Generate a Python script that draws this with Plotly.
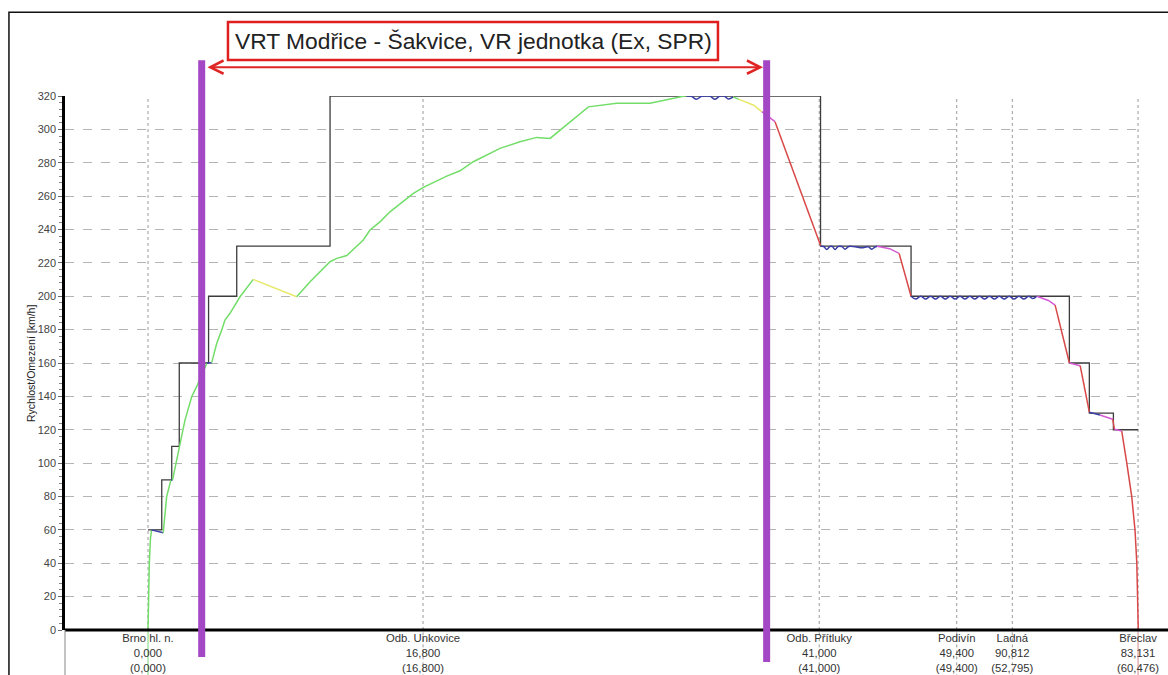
import plotly.graph_objects as go

# ---------------- data ----------------
# speed limit (step line, value holds until next km)
limit_km = [0.0, 0.84, 1.45, 1.91, 3.70, 5.42, 11.12, 41.08, 46.61, 56.28, 57.50, 58.97, 60.48]
limit_kmh = [60, 90, 110, 160, 200, 230, 320, 230, 200, 160, 130, 120, 120]

# stations (x position = value in parentheses)
station_pos = [0.0, 16.8, 41.0, 49.4, 52.795, 60.476]
station_names = ["Brno hl. n.", "Odb. Unkovice", "Odb. Přítluky", "Podivín", "Ladná", "Břeclav"]
station_km = ["0,000", "16,800", "41,000", "49,400", "90,812", "83,131"]
station_km_par = ["(0,000)", "(16,800)", "(41,000)", "(49,400)", "(52,795)", "(60,476)"]

# driving phases of the speed curve
acc1_km = [0.0, 0.03, 0.08, 0.15, 0.22]
acc1_v = [0, 20, 40, 55, 60]
hold1_km = [0.2, 0.93]
hold1_v = [60, 58.3]
acc2_km = [0.93, 1.14, 1.4]
acc2_v = [58.3, 79.9, 90]
hold2_km = [1.4, 1.5]
hold2_v = [90, 90]
acc3_km = [1.5, 1.75, 1.95, 2.26, 2.67, 2.97, 3.59]
acc3_v = [90, 101.9, 109.8, 125.8, 139.8, 145.8, 159.8]
hold3_km = [3.59, 3.89]
hold3_v = [160, 160.2]
acc4_km = [3.89, 4.2, 4.5, 4.7, 5.01, 5.62, 6.43]
acc4_v = [160.2, 171.8, 179.7, 185.7, 189.8, 199.7, 210.1]
coast1_km = [6.43, 7.56, 9.08]
coast1_v = [210.1, 205.7, 199.7]
acc5_km = [9.08, 9.9, 11.12, 11.53, 12.14, 13.15, 13.56, 14.17, 14.78, 16.21, 16.82, 18.25,
           19.06, 19.87, 21.5, 22.72, 23.74, 24.56, 26.9, 28.63, 30.67, 32.91]
acc5_v = [199.7, 208.7, 220.7, 222.7, 224.4, 233.7, 239.7, 244.6, 250.6, 261.6, 265.2, 272,
          275.2, 280.6, 288.6, 292.6, 295.2, 294.6, 313.5, 315.6, 315.6, 320.3]
hold4_km = [32.91, 33.2, 33.5, 33.8, 34.05, 34.35, 34.63, 34.9, 35.2, 35.45, 35.74]
hold4_v = [320, 319.8, 318.0, 319.8, 320, 319.8, 318.0, 319.8, 320, 318.2, 319.5]
acc6_km = [35.74, 36.1]
acc6_v = [319.5, 318]
coast2_km = [36.1, 37.0, 37.49]
coast2_v = [318, 314.5, 310.6]
brk_l1_km = [37.49, 37.99, 38.3]
brk_l1_v = [310.6, 306.6, 304.6]
brk1_km = [38.3, 41.09]
brk1_v = [304.6, 230.2]
hold5_km = [41.09, 41.28, 41.46, 41.65, 41.8, 41.97, 42.15, 42.38, 42.58, 42.8, 43.2, 43.6, 44.0, 44.21, 44.4, 44.53]
hold5_v = [230, 229.8, 228.0, 229.8, 229.8, 228.0, 229.8, 229.8, 228.2, 229.8, 229.6, 229.0, 229.6, 228.2, 229.5, 230]
brk_l2_km = [44.53, 45.3, 45.88]
brk_l2_v = [230, 228.5, 225.7]
brk2_km = [45.88, 46.61]
brk2_v = [225.7, 200]
hold6_km = [46.61, 46.9, 47.2, 47.5, 47.8, 48.1, 48.4, 48.7, 49.0, 49.3, 49.6, 49.9, 50.2, 50.5,
            50.8, 51.1, 51.4, 51.7, 52.0, 52.3, 52.6, 52.9, 53.2, 53.5, 53.8, 54.05, 54.29]
hold6_v = [200, 198.3, 200, 198.3, 200, 198.3, 200, 198.3, 200, 198.3, 200, 198.3, 200, 198.3,
           200, 198.3, 200, 198.3, 200, 198.3, 200, 198.3, 200, 198.3, 200, 198.6, 200]
brk_l3_km = [54.29, 55.0, 55.41]
brk_l3_v = [200, 197.5, 194.7]
brk3_km = [55.41, 56.28]
brk3_v = [194.7, 160]
brk_l4_km = [56.28, 56.94]
brk_l4_v = [160, 158.4]
brk4_km = [56.94, 57.5]
brk4_v = [158.4, 130.5]
hold7_km = [57.5, 58.15]
hold7_v = [130.5, 128.8]
brk_l5_km = [58.15, 58.93]
brk_l5_v = [128.8, 126.3]
brk5_km = [58.93, 59.03]
brk5_v = [126.3, 120.3]
brk_l6_km = [59.03, 59.48]
brk_l6_v = [120.3, 119.2]
brk6_km = [59.48, 59.68, 59.79, 60.09, 60.29, 60.40, 60.46, 60.49]
brk6_v = [119.2, 107.8, 99.9, 79.9, 59.9, 40, 20, 0]

# section markers (km)
section_start_km = 3.28
section_end_km = 37.79
section_title = "VRT Modřice - Šakvice, VR jednotka (Ex, SPR)"
y_title = "Rychlost/Omezení [km/h]"

# ---------------- figure ----------------
COL = {
    "acc": "#72dd68",
    "coast": "#e8e86a",
    "hold": "#3a3ea6",
    "brk": "#d84848",
    "brkl": "#d45ad4",
}

segments = [
    (acc1_km, acc1_v, "acc"), (hold1_km, hold1_v, "hold"), (acc2_km, acc2_v, "acc"),
    (hold2_km, hold2_v, "hold"), (acc3_km, acc3_v, "acc"), (hold3_km, hold3_v, "hold"),
    (acc4_km, acc4_v, "acc"), (coast1_km, coast1_v, "coast"), (acc5_km, acc5_v, "acc"),
    (hold4_km, hold4_v, "hold"), (acc6_km, acc6_v, "acc"), (coast2_km, coast2_v, "coast"),
    (brk_l1_km, brk_l1_v, "brkl"), (brk1_km, brk1_v, "brk"), (hold5_km, hold5_v, "hold"),
    (brk_l2_km, brk_l2_v, "brkl"), (brk2_km, brk2_v, "brk"), (hold6_km, hold6_v, "hold"),
    (brk_l3_km, brk_l3_v, "brkl"), (brk3_km, brk3_v, "brk"), (brk_l4_km, brk_l4_v, "brkl"),
    (brk4_km, brk4_v, "brk"), (hold7_km, hold7_v, "hold"), (brk_l5_km, brk_l5_v, "brkl"),
    (brk5_km, brk5_v, "brk"), (brk_l6_km, brk_l6_v, "brkl"), (brk6_km, brk6_v, "brk"),
]

fig = go.Figure()

fig.add_trace(go.Scatter(
    x=limit_km, y=limit_kmh, mode="lines",
    line=dict(color="#3c3c3c", width=1.3, shape="hv"),
    showlegend=False, hoverinfo="skip"))

for xs, ys, kind in segments:
    fig.add_trace(go.Scatter(
        x=xs, y=ys, mode="lines",
        line=dict(color=COL[kind], width=1.5, shape="spline" if kind == "hold" else "linear"),
        showlegend=False, hoverinfo="skip"))

shapes = []
# station grid lines
below_cols = {0: "#7fd87f", 5: "#d08a8a"}
for i, p in enumerate(station_pos):
    shapes.append(dict(type="line", xref="x", yref="paper", x0=p, x1=p, y0=0, y1=1,
                       line=dict(color="#9a9a9a", width=1, dash="dot"), layer="below"))
    shapes.append(dict(type="line", xref="x", yref="paper", x0=p, x1=p, y0=-0.1, y1=0,
                       line=dict(color=below_cols.get(i, "#9a9a9a"), width=1,
                                 dash="solid" if i in below_cols else "dot"), layer="below"))
# outer frame
shapes.append(dict(type="rect", xref="paper", yref="paper", x0=-0.0519, x1=1.06, y0=-0.15, y1=1.157,
                   line=dict(color="#111", width=1.5), layer="below"))
# bottom axis line
shapes.append(dict(type="line", xref="paper", yref="paper", x0=0, x1=1.06, y0=0, y1=0,
                   line=dict(color="#000", width=3)))
# thin line below the y axis
shapes.append(dict(type="line", xref="paper", yref="paper", x0=0, x1=0, y0=-0.1, y1=0,
                   line=dict(color="#888", width=1)))
# purple section markers
for p, yb in ((section_start_km, -0.0506), (section_end_km, -0.06)):
    shapes.append(dict(type="line", xref="x", yref="paper", x0=p, x1=p, y0=yb, y1=1.067,
                       line=dict(color="#a347c4", width=7)))
# title box
shapes.append(dict(type="rect", xref="paper", yref="paper", x0=0.1509, x1=0.6046, y0=1.0674, y1=1.1386,
                   line=dict(color="#e02020", width=2.5), fillcolor="white"))

annotations = [
    dict(xref="paper", yref="paper", x=0.1556, y=1.103, xanchor="left", yanchor="middle",
         text=section_title, showarrow=False,
         font=dict(size=22.8, color="#222", family="Liberation Sans, Arial, sans-serif")),
    dict(x=37.57, y=1.054, xref="x", yref="paper", ax=3.54, ay=0, axref="x", ayref="pixel",
         text="", showarrow=True, arrowhead=5, startarrowhead=5, arrowside="end+start",
         arrowcolor="#e02525", arrowwidth=2, arrowsize=1.3, startarrowsize=1.3),
    dict(xref="paper", yref="paper", x=-0.0315, y=0.5, xanchor="center", yanchor="middle",
         text=y_title, textangle=-90, showarrow=False,
         font=dict(size=10.5, color="#222", family="Liberation Sans, Arial, sans-serif")),
]

ticktext = [f"{n}<br>{k}<br>{kp}" for n, k, kp in zip(station_names, station_km, station_km_par)]

fig.update_layout(
    width=1168, height=675,
    margin=dict(l=65, r=23, t=96, b=45, autoexpand=False),
    paper_bgcolor="white", plot_bgcolor="white",
    font=dict(family="Liberation Sans, Arial, sans-serif", color="#333"),
    shapes=shapes, annotations=annotations,
    xaxis=dict(range=[-5.07, 60.9], showgrid=False, zeroline=False, showline=False,
               tickvals=station_pos, ticktext=ticktext, ticks="", automargin=False,
               tickfont=dict(size=11.3, color="#333")),
    yaxis=dict(range=[0, 320], dtick=20, showgrid=True, gridcolor="#b4b4b4", griddash="dash",
               gridwidth=1, zeroline=False, showline=True, linecolor="#000", linewidth=2.5,
               ticks="outside", ticklen=4, tickcolor="#666", automargin=False,
               minor=dict(dtick=4, ticks="outside", ticklen=3, tickcolor="#888", showgrid=False),
               tickfont=dict(size=11, color="#444")),
)

fig.write_html("out.html", config={"displayModeBar": False},
               post_script="document.body.style.margin='0';")
